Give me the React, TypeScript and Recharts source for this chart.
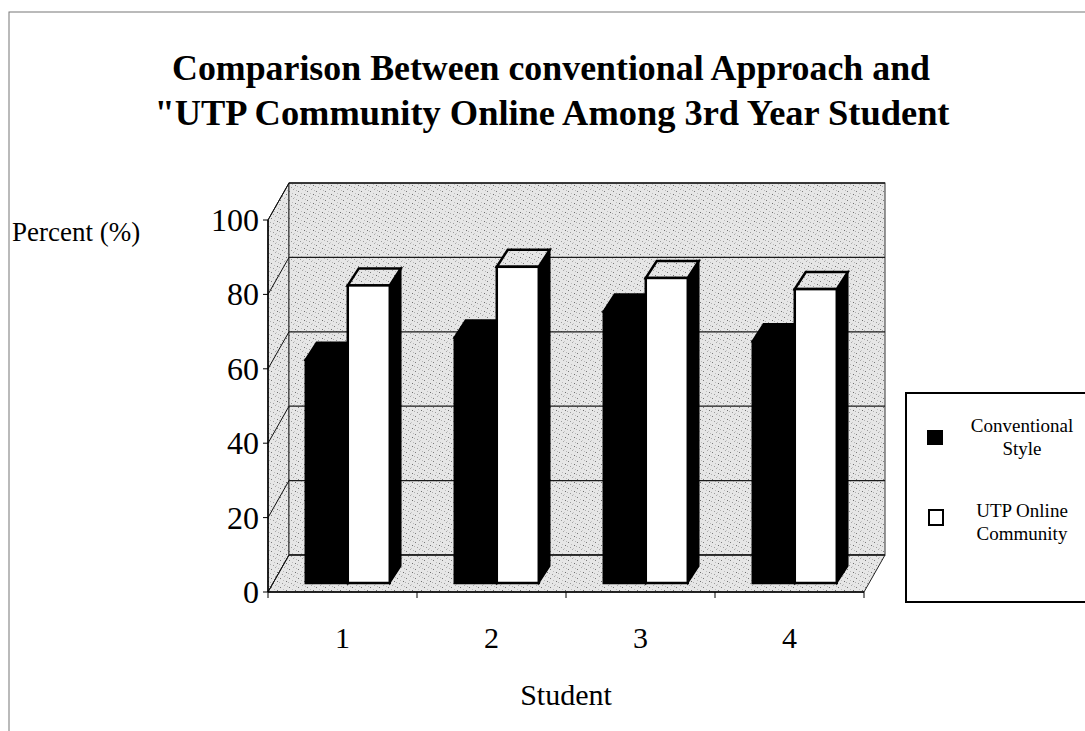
import React from "react";
import { BarChart, Bar, XAxis, YAxis, CartesianGrid, Legend } from "recharts";

const categories = ["1", "2", "3", "4"];
const conventionalStyle = [60, 66, 73, 65];
const utpOnlineCommunity = [80, 85, 82, 79];
const yTicks = [0, 20, 40, 60, 80, 100];

const seriesNames = ["Conventional Style", "UTP Online Community"];

const data = categories.map((student, i) => ({
    student,
    conventional: conventionalStyle[i],
    utp: utpOnlineCommunity[i],
}));

const W = 1085;
const H = 731;
const FONT = "'Liberation Serif', 'Times New Roman', serif";

// oblique 3d offsets (Excel style)
const WALL_DX = 21;
const WALL_DY = 37;
const BAR_DX = 5;
const BAR_DY = 9;
const DEPTH_DX = 11;
const DEPTH_DY = 17;

const MARGIN = { top: 220, right: 221, bottom: 89, left: 208 };
const Y_AXIS_W = 60;
const PLOT_W = W - MARGIN.left - Y_AXIS_W - MARGIN.right;

const Speckle = () => (
    <defs>
        <pattern id="speck" width="9" height="9" patternUnits="userSpaceOnUse">
            <rect width="9" height="9" fill="#e6e6e6" />
            <rect x="1" y="2" width="1" height="1" fill="#7a7a7a" />
            <rect x="5" y="0" width="1" height="1" fill="#a8a8a8" />
            <rect x="7" y="5" width="1" height="1" fill="#6e6e6e" />
            <rect x="3" y="7" width="1" height="1" fill="#9a9a9a" />
            <rect x="4" y="4" width="1" height="1" fill="#bdbdbd" />
            <rect x="0" y="6" width="1" height="1" fill="#b0b0b0" />
            <rect x="8" y="1" width="1" height="1" fill="#b8b8b8" />
            <rect x="6" y="8" width="1" height="1" fill="#c8c8c8" />
        </pattern>
    </defs>
);

// walls + floor are drawn with the first grid line, so the other grid lines sit on top
const GridLine = (props: any) => {
    const { x1, y1, x2, y2, index, horizontalPoints } = props;
    let walls = null;
    if (index === 0) {
        const pts: number[] = horizontalPoints && horizontalPoints.length ? horizontalPoints : [props.y, props.y + props.height];
        const top = Math.min(...pts);
        const b = Math.max(...pts);
        const x = x1;
        const width = x2 - x1;
        walls = (
            <g>
                <Speckle />
                <polygon
                    points={`${x},${top} ${x + WALL_DX},${top - WALL_DY} ${x + WALL_DX},${b - WALL_DY} ${x},${b}`}
                    fill="url(#speck)"
                    stroke="#111"
                    strokeWidth={1}
                />
                <rect x={x + WALL_DX} y={top - WALL_DY} width={width} height={b - top} fill="url(#speck)" stroke="#333" strokeWidth={1} />
                <polygon
                    points={`${x},${b} ${x + width},${b} ${x + width + WALL_DX},${b - WALL_DY} ${x + WALL_DX},${b - WALL_DY}`}
                    fill="url(#speck)"
                    stroke="#222"
                    strokeWidth={1}
                />
            </g>
        );
    }
    return (
        <g>
            {walls}
            <line x1={x1 + WALL_DX} y1={y1 - WALL_DY} x2={x2 + WALL_DX} y2={y2 - WALL_DY} stroke="#1a1a1a" strokeWidth={1.3} />
            <line x1={x1} y1={y1} x2={x1 + WALL_DX} y2={y1 - WALL_DY} stroke="#111" strokeWidth={1} />
        </g>
    );
};

const Column3D = (props: any) => {
    const { x, y, width, height, fill } = props;
    if (height == null || height <= 0) return null;
    const dark = fill === "#000000";
    const fx = x + BAR_DX;
    const fy = y - BAR_DY;
    return (
        <g>
            <polygon
                points={`${fx + width},${fy} ${fx + width + DEPTH_DX},${fy - DEPTH_DY} ${fx + width + DEPTH_DX},${fy + height - DEPTH_DY} ${fx + width},${fy + height}`}
                fill="#000"
                stroke="#000"
                strokeWidth={1.5}
            />
            <polygon
                points={`${fx},${fy} ${fx + width},${fy} ${fx + width + DEPTH_DX},${fy - DEPTH_DY} ${fx + DEPTH_DX},${fy - DEPTH_DY}`}
                fill={dark ? "#000" : "url(#speck)"}
                stroke="#000"
                strokeWidth={2.5}
            />
            <rect x={fx} y={fy} width={width} height={height} fill={fill} stroke="#000" strokeWidth={2.5} />
        </g>
    );
};

const XTick = (props: any) => {
    const { x, y, payload, index } = props;
    const half = PLOT_W / categories.length / 2;
    return (
        <g>
            <line x1={x - half} y1={y - 8} x2={x - half} y2={y - 2} stroke="#000" />
            {index === categories.length - 1 && <line x1={x + half} y1={y - 8} x2={x + half} y2={y - 2} stroke="#000" />}
            <text x={x} y={y + 48} textAnchor="middle" fontFamily={FONT} fontSize={30} fill="#000">
                {payload.value}
            </text>
        </g>
    );
};

const YTick = (props: any) => {
    const { x, y, payload } = props;
    return (
        <text x={x - 2} y={y + 11} textAnchor="end" fontFamily={FONT} fontSize={32} fill="#000">
            {payload.value}
        </text>
    );
};

const LegendBox = () => (
    <div
        style={{
            width: 185,
            height: 207,
            border: "2px solid #000",
            background: "#fff",
            fontFamily: FONT,
            fontSize: 19,
            color: "#000",
            position: "relative",
        }}
    >
        <div style={{ position: "absolute", left: 20, top: 36, width: 16, height: 15, background: "#000" }} />
        <div style={{ position: "absolute", left: 50, top: 20, width: 130, textAlign: "center", lineHeight: "23px" }}>
            Conventional
            <br />
            Style
        </div>
        <div style={{ position: "absolute", left: 21, top: 115, width: 12, height: 13, border: "2px solid #000", background: "#fff" }} />
        <div style={{ position: "absolute", left: 50, top: 105, width: 130, textAlign: "center", lineHeight: "23px" }}>
            UTP Online
            <br />
            Community
        </div>
    </div>
);

export default function App() {
    return (
        <div style={{ position: "absolute", left: 0, top: 0, width: W, height: H, background: "#fff", overflow: "hidden" }}>
            <BarChart width={W} height={H} data={data} margin={MARGIN} barCategoryGap="22%" barGap={0}>
                <CartesianGrid vertical={false} horizontal={(p: any) => <GridLine {...p} />} />
                <XAxis
                    dataKey="student"
                    axisLine={{ stroke: "#000", strokeWidth: 1.5 }}
                    tickLine={false}
                    tick={<XTick />}
                    height={50}
                    label={{
                        content: (p: any) => (
                            <text
                                x={p.viewBox.x + p.viewBox.width / 2}
                                y={p.viewBox.y + 113}
                                textAnchor="middle"
                                fontFamily={FONT}
                                fontSize={30}
                                fill="#000"
                            >
                                Student
                            </text>
                        ),
                    }}
                />
                <YAxis
                    domain={[0, 100]}
                    ticks={yTicks}
                    width={Y_AXIS_W}
                    axisLine={{ stroke: "#000", strokeWidth: 1.5 }}
                    tickLine={{ stroke: "#000" }}
                    tickSize={5}
                    tick={<YTick />}
                    label={{
                        content: (p: any) => (
                            <text x={12} y={p.viewBox.y + 21} fontFamily={FONT} fontSize={27} fill="#000">
                                Percent (%)
                            </text>
                        ),
                    }}
                />
                <Bar dataKey="conventional" name={seriesNames[0]} fill="#000000" shape={<Column3D />} isAnimationActive={false} />
                <Bar dataKey="utp" name={seriesNames[1]} fill="#ffffff" shape={<Column3D />} isAnimationActive={false} />
                <Legend
                    layout="horizontal"
                    verticalAlign="middle"
                    align="center"
                    content={<LegendBox />}
                    wrapperStyle={{ position: "absolute", left: 905, top: 392, width: 189, height: 211 }}
                />
            </BarChart>
            <svg width={W} height={H} style={{ position: "absolute", left: 0, top: 0, pointerEvents: "none" }}>
                <rect x={9} y={12} width={W} height={H} fill="none" stroke="#777" strokeWidth={1} />
                <text x={551} y={80} textAnchor="middle" fontFamily={FONT} fontSize={36} fontWeight="bold" textLength={758} lengthAdjust="spacingAndGlyphs">
                    Comparison Between conventional Approach and
                </text>
                <text x={552} y={125} textAnchor="middle" fontFamily={FONT} fontSize={36} fontWeight="bold" textLength={795} lengthAdjust="spacingAndGlyphs">
                    "UTP Community Online Among 3rd Year Student
                </text>
            </svg>
        </div>
    );
}
